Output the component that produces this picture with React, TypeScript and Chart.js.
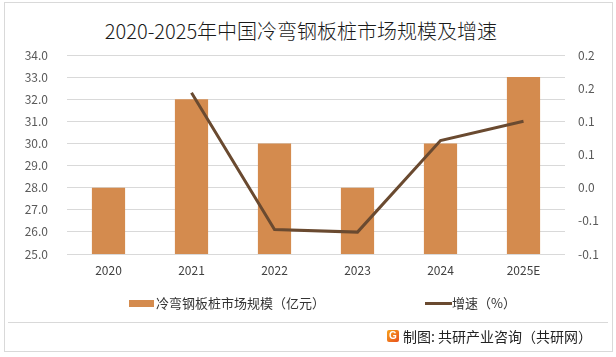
import React, { useEffect, useRef } from "react";
import { Chart, registerables } from "chart.js";

Chart.register(...registerables);

const categories = ["2020", "2021", "2022", "2023", "2024", "2025E"];
const marketSize = [28, 32, 30, 28, 30, 33];
const growthRate = [null, 0.143, -0.063, -0.067, 0.071, 0.1];
const rightTickLabels = ["-0.1", "-0.1", "0.0", "0.1", "0.1", "0.2", "0.2"];

const titleText = "2020-2025年中国冷弯钢板桩市场规模及增速";
const barLegend = "冷弯钢板桩市场规模（亿元）";
const lineLegend = "增速（%）";
const footerText = "制图: 共研产业咨询（共研网）";

const BAR_COLOR = "#D48B4E";
const LINE_COLOR = "#6A4A30";
const FONT = "'Noto Sans CJK SC', 'Liberation Sans', sans-serif";

export default function App() {
  const ref = useRef<HTMLCanvasElement | null>(null);

  useEffect(() => {
    if (!ref.current) return;
    const chart = new Chart(ref.current, {
      type: "bar",
      data: {
        labels: categories,
        datasets: [
          {
            type: "line",
            label: lineLegend,
            data: growthRate as any,
            yAxisID: "y1",
            borderColor: LINE_COLOR,
            backgroundColor: LINE_COLOR,
            borderWidth: 3,
            pointRadius: 0,
            tension: 0,
            order: 0,
          },
          {
            type: "bar",
            label: barLegend,
            data: marketSize,
            yAxisID: "y",
            backgroundColor: BAR_COLOR,
            barPercentage: 0.8,
            categoryPercentage: 0.5,
            order: 1,
          },
        ],
      },
      options: {
        responsive: false,
        animation: false,
        layout: { padding: { top: 55, left: 0, right: 0, bottom: 0 } },
        plugins: { legend: { display: false }, tooltip: { enabled: false } },
        scales: {
          x: {
            grid: { display: false, drawTicks: false },
            border: { display: false },
            ticks: { color: "#404040", font: { size: 12, family: FONT }, padding: 9 },
            afterFit: (s: any) => {
              s.height = 103;
            },
          },
          y: {
            position: "left",
            min: 25,
            max: 34,
            grid: { color: "#D9D9D9", drawTicks: false },
            border: { display: false },
            ticks: {
              stepSize: 1,
              color: "#595959",
              font: { size: 12, family: FONT },
              padding: 19,
              callback: (v: any) => Number(v).toFixed(1),
            },
            afterFit: (s: any) => {
              s.width = 67;
            },
          },
          y1: {
            position: "right",
            min: -0.1,
            max: 0.2,
            grid: { display: false, drawTicks: false },
            border: { display: false },
            ticks: {
              stepSize: 0.05,
              color: "#595959",
              font: { size: 12, family: FONT },
              padding: 13,
              callback: (_v: any, i: number) => rightTickLabels[i] ?? "",
            },
            afterFit: (s: any) => {
              s.width = 51;
            },
          },
        },
      },
    });
    return () => chart.destroy();
  }, []);

  return (
    <div
      style={{
        position: "absolute",
        left: 0,
        top: 0,
        width: 616,
        height: 357,
        background: "#fff",
        fontFamily: FONT,
        overflow: "hidden",
      }}
    >
      <div
        style={{
          position: "absolute",
          left: 4,
          top: 2,
          width: 607,
          height: 348,
          border: "1px solid #D9D9D9",
        }}
      />
      <div
        style={{
          position: "absolute",
          left: 0,
          top: 18,
          width: 602,
          textAlign: "center",
          fontSize: 20,
          fontWeight: 300,
          color: "#1a1a1a",
          lineHeight: "26px",
          whiteSpace: "nowrap",
        }}
      >
        {titleText}
      </div>
      <canvas
        ref={ref}
        width={616}
        height={357}
        style={{ position: "absolute", left: 0, top: 0, width: 616, height: 357 }}
      />
      <div
        style={{
          position: "absolute",
          left: 129,
          top: 300,
          width: 25,
          height: 7,
          background: BAR_COLOR,
        }}
      />
      <div
        style={{
          position: "absolute",
          left: 156,
          top: 294,
          fontSize: 13,
          lineHeight: "18px",
          color: "#333",
          whiteSpace: "nowrap",
        }}
      >
        {barLegend}
      </div>
      <div
        style={{
          position: "absolute",
          left: 425,
          top: 302,
          width: 27,
          height: 3,
          background: LINE_COLOR,
        }}
      />
      <div
        style={{
          position: "absolute",
          left: 452,
          top: 294,
          fontSize: 13,
          lineHeight: "18px",
          color: "#333",
          whiteSpace: "nowrap",
        }}
      >
        {lineLegend}
      </div>
      <div
        style={{
          position: "absolute",
          left: 8,
          top: 322,
          width: 600,
          height: 1,
          background: "#D9D9D9",
        }}
      />
      <div
        style={{
          position: "absolute",
          left: 387,
          top: 330,
          width: 12,
          height: 12,
          borderRadius: 2,
          background: "linear-gradient(135deg, #F7A21B, #E8501E)",
          color: "#fff",
          fontSize: 10,
          fontWeight: "bold",
          lineHeight: "12px",
          textAlign: "center",
          fontFamily: "'Liberation Sans', sans-serif",
        }}
      >
        G
      </div>
      <div
        style={{
          position: "absolute",
          left: 403,
          top: 327,
          fontSize: 14,
          lineHeight: "18px",
          color: "#222",
          whiteSpace: "nowrap",
        }}
      >
        {footerText}
      </div>
    </div>
  );
}
